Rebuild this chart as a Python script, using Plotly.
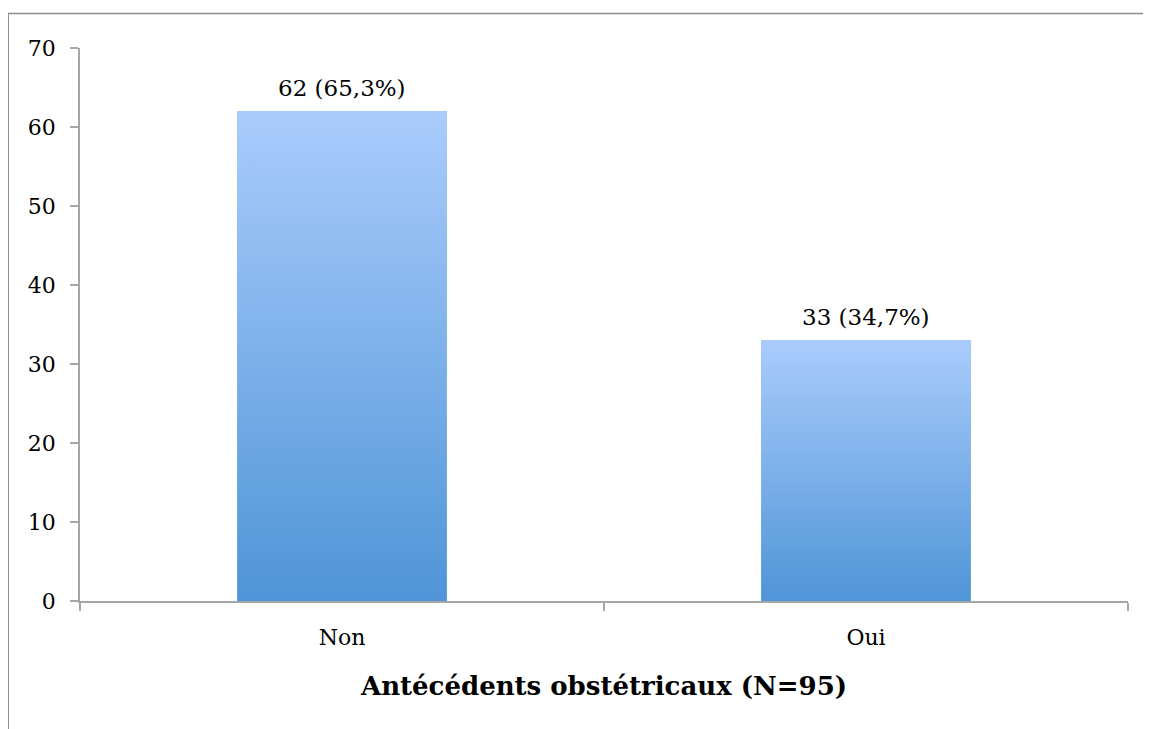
import plotly.graph_objects as go

categories = ["Non", "Oui"]
counts = [62, 33]
labels = ["62 (65,3%)", "33 (34,7%)"]
y_ticks = [0, 10, 20, 30, 40, 50, 60, 70]
x_title = "Antécédents obstétricaux (N=95)"

FONT = "DejaVu Serif"
BAR_W = 0.4
TOP_C = "#AACCFC"
BOT_C = "#4F95D7"
AXIS_C = "#A6A6A6"

fig = go.Figure()

# data bars (categorical axis)
fig.add_trace(go.Bar(
    x=categories, y=counts, width=BAR_W,
    marker=dict(color="#7DB2EE", line=dict(width=0)),
    hoverinfo="skip", showlegend=False,
))

# gradient overlay for each bar, derived from the same data on a twin linear axis
for i, v in enumerate(counts):
    fig.add_trace(go.Scatter(
        x=[i - BAR_W / 2, i + BAR_W / 2, i + BAR_W / 2, i - BAR_W / 2, i - BAR_W / 2],
        y=[0, 0, v, v, 0],
        xaxis="x2", mode="lines", line=dict(width=0),
        fill="toself",
        fillgradient=dict(type="vertical", colorscale=[[0, BOT_C], [1, TOP_C]]),
        hoverinfo="skip", showlegend=False,
    ))

for c, v, t in zip(categories, counts, labels):
    fig.add_annotation(x=c, y=v, text=t, showarrow=False, yanchor="bottom",
                       yshift=8, font=dict(family=FONT, size=23, color="#000000"))

# outer chart frame (partially outside the window like the original)
fig.add_shape(type="rect", xref="paper", yref="paper",
              x0=-0.0685, x1=1.2, y0=-0.5, y1=1.0625,
              line=dict(color="#8C8C8C", width=1.5), fillcolor="rgba(0,0,0,0)")

fig.update_layout(
    width=1151, height=729,
    margin=dict(l=72, r=31, t=40, b=136),
    paper_bgcolor="white", plot_bgcolor="white",
    bargap=0.6,
    font=dict(family=FONT, size=23, color="#000000"),
    xaxis=dict(
        type="category", range=[-0.5, 1.5],
        showline=True, linecolor=AXIS_C, linewidth=1.5,
        ticks="outside", tickson="boundaries", ticklen=8, tickcolor=AXIS_C, tickwidth=1.5,
        showgrid=False, zeroline=False,
        tickfont=dict(family=FONT, size=22),
        ticklabelstandoff=16,
        title=dict(text="<b>" + x_title + "</b>", font=dict(family=FONT, size=26), standoff=28),
    ),
    xaxis2=dict(overlaying="x", range=[-0.5, 1.5], visible=False),
    yaxis=dict(
        range=[0, 70], tickvals=y_ticks,
        showline=True, linecolor=AXIS_C, linewidth=1.5,
        ticks="outside", ticklen=8, tickcolor=AXIS_C, tickwidth=1.5,
        showgrid=False, zeroline=False,
        tickfont=dict(family=FONT, size=22),
        ticklabelstandoff=10,
    ),
)

fig.write_html("out.html")
